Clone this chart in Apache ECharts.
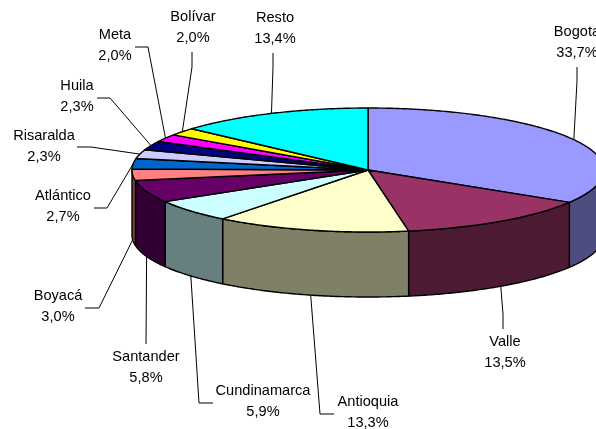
<!DOCTYPE html>
<html>
<head>
<meta charset="utf-8">
<style>html,body{margin:0;padding:0;background:#fff;overflow:hidden}#c{width:596px;height:429px}</style>
<script src="https://cdn.jsdelivr.net/npm/echarts@6/dist/echarts.min.js"></script>
</head>
<body>
<div id="c"></div>
<script>
// Data
const categories = ['Bogota','Valle','Antioquia','Cundinamarca','Santander','Boyacá','Atlántico','Risaralda','Huila','Meta','Bolívar','Resto'];
const shares = [33.7,13.5,13.3,5.9,5.8,3.0,2.7,2.3,2.3,2.0,2.0,13.4];

// Styles
const topColors  = ['#9999FF','#993366','#FFFFCC','#CCFFFF','#660066','#FF8080','#0066CC','#CCCCFF','#000080','#FF00FF','#FFFF00','#00FFFF'];
const wallColors = ['#4D4D80','#4D1A33','#808066','#668080','#330033','#804040','#003366','#666680','#000040','#800080','#808000','#008080'];

// Layout
const CX = 368, CY = 170, RX = 236, RY = 62, DEPTH = 65;
const labelCenters = [[577,42.5],[505,352.5],[368,412.5],[263,401.5],[146,367],[58,306.5],[63,206.5],[44,146.5],[77,96],[115,45],[193,27],[275,28.5]];
const leaderStarts = [[577,67],[503,329],[334,414],[213,403],[146,344],[85,308],[94,208],[77,147],[97,98],[135,47],[192,52],[273,53]];
const leaderElbows = [[577,81],[503,314],[320,414],[199,403],[146,344],[99,308],[107,208],[91,147],[110,98],[148,47],[192,67],[273,67]];

const total = shares.reduce((a, b) => a + b, 0);
const cumulative = [];
shares.reduce((acc, v, i) => { cumulative[i] = acc; return acc + v; }, 0);
const angleAt = s => s / total * 2 * Math.PI;
const rim = (t, dy) => [CX + RX * Math.sin(t), CY - RY * Math.cos(t) + (dy || 0)];
function arc(t0, t1, dy) {
  const n = Math.max(2, Math.ceil((t1 - t0) / 0.01));
  const pts = [];
  for (let k = 0; k <= n; k++) pts.push(rim(t0 + (t1 - t0) * k / n, dy));
  return pts;
}
const span = i => [angleAt(cumulative[i]), angleAt(cumulative[i] + shares[i])];
const data = shares.map((v, i) => [i, v]);
const edge = { stroke: '#000', lineWidth: 1.4, lineJoin: 'round' };

function renderWall(params, api) {
  const i = api.value(0);
  const [a, b] = span(i);
  const t0 = Math.max(a, Math.PI / 2), t1 = Math.min(b, 3 * Math.PI / 2);
  if (t1 <= t0) return { type: 'group', children: [] };
  const pts = arc(t0, t1, 0).concat(arc(t0, t1, DEPTH).reverse());
  return { type: 'polygon', shape: { points: pts }, style: Object.assign({ fill: wallColors[i] }, edge) };
}
function renderTop(params, api) {
  const i = api.value(0);
  const [a, b] = span(i);
  const pts = [[CX, CY]].concat(arc(a, b, 0));
  return { type: 'polygon', shape: { points: pts }, style: Object.assign({ fill: topColors[i] }, edge) };
}
function renderNote(params, api) {
  const i = api.value(0);
  const [a, b] = span(i);
  const mid = (a + b) / 2;
  const front = Math.cos(mid) < 0;
  const end = rim(mid, front ? DEPTH : 0);
  const c = labelCenters[i];
  const txt = categories[i] + '\n' + api.value(1).toFixed(1).replace('.', ',') + '%';
  return { type: 'group', children: [
    { type: 'polyline', shape: { points: [leaderStarts[i], leaderElbows[i], end] },
      style: { stroke: '#000', lineWidth: 1, fill: null } },
    { type: 'text', x: c[0], y: c[1],
      style: { text: txt, fill: '#000', font: '14.6px "Liberation Sans", Arial, sans-serif',
        align: 'center', verticalAlign: 'middle', lineHeight: 21 } }
  ] };
}

const chart = echarts.init(document.getElementById('c'), null, { renderer: 'canvas' });
chart.setOption({
  animation: false,
  backgroundColor: '#fff',
  tooltip: { show: false },
  series: [
    { type: 'custom', coordinateSystem: 'none', silent: true, clip: false, z: 1, data, renderItem: renderWall },
    { type: 'custom', coordinateSystem: 'none', silent: true, clip: false, z: 2, data, renderItem: renderTop },
    { type: 'custom', coordinateSystem: 'none', silent: true, clip: false, z: 3, data, renderItem: renderNote }
  ]
});
</script>
</body>
</html>
